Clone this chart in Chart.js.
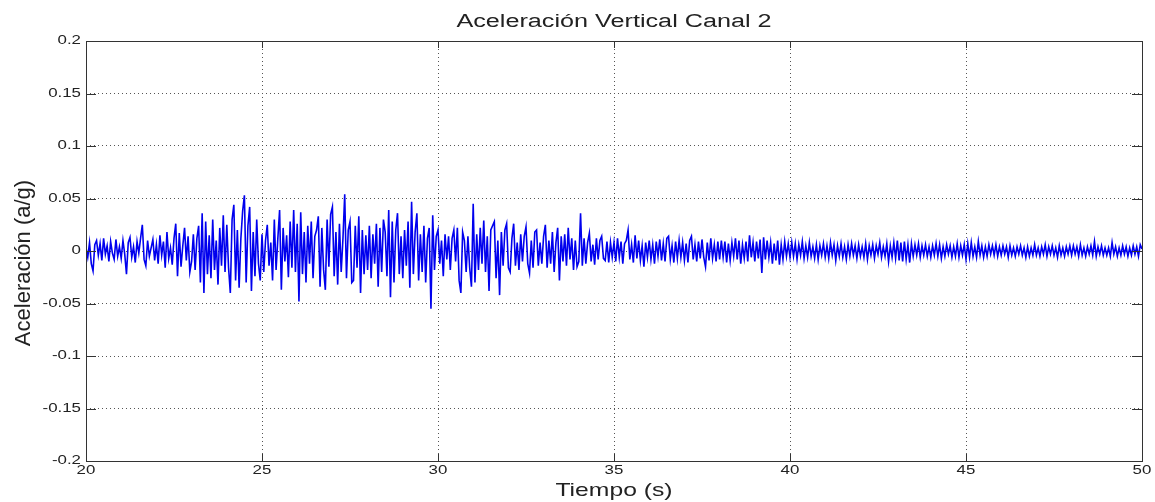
<!DOCTYPE html>
<html>
<head>
<meta charset="utf-8">
<title>Aceleración Vertical Canal 2</title>
<script src="https://cdn.jsdelivr.net/npm/chart.js@4.4.1/dist/chart.umd.min.js"></script>
<style>
  html, body { margin: 0; padding: 0; background: #fff; }
  #wrap { width: 1155px; height: 502px; }
</style>
</head>
<body>
<div id="wrap"><canvas id="acc-chart" width="1155" height="502"></canvas></div>
<script>
// sampling of the record (s)
var startTime = 20;
var sampleStep = 0.05;

// acceleration, thousandths of g, one row per second (20 samples)
var acc20 = [3, -6, 8, -12, -19, 6, 10, -4, 7, -9, 12, -3, 5, -10, 9, -2, -8, 11, -5, 4];
var acc21 = [-7, 10, -3, -22, 8, 13, -6, 4, -11, 9, -2, 12, 25, -8, -14, 10, -5, 3, 11, -9];
var acc22 = [6, -12, 15, -4, 9, -16, 18, -7, 3, -13, 12, 26, -24, 17, -15, 5, 22, -9, 14, -20];
var acc23 = [-10, 16, -18, 12, 24, -30, 36, -40, 28, -22, 15, -26, 30, -18, 10, -32, 22, -14, 34, -20];
var acc24 = [25, -16, -40, 30, 44, -28, 20, -35, 12, 38, 53, -30, 24, 42, -38, 18, -24, 30, -12, -28];
var acc25 = [16, -20, 10, 25, -14, 8, -28, 30, -18, 12, 39, -37, 22, -10, 15, -25, 28, -16, 39, -20];
var acc26 = [26, -48, 37, -22, 18, -30, 24, -12, 28, -26, 14, 20, 33, -34, 22, -18, -37, 30, -15, 35];
var acc27 = [42, -24, 18, -32, 26, -20, 12, 54, -26, 20, 28, -30, -28, 24, -16, 33, -40, 20, -22, 15];
var acc28 = [-18, 24, -26, 16, -12, 26, -34, 22, -20, 30, 18, -24, 39, -44, 28, -30, 20, 36, -22, 14];
var acc29 = [-26, 20, -14, 28, -35, 47, -22, 18, 36, -28, 16, -20, 24, -30, 12, 22, -55, 34, -18, 14];
var acc30 = [20, -12, 10, -24, 16, -8, 14, -18, 12, 20, -10, 22, -28, -40, 18, 10, -20, 14, -16, -34];
var acc31 = [45, -30, 16, -18, 22, -12, 29, -20, 14, -38, 20, 24, 28, -26, 10, -42, 18, -14, 20, 26];
var acc32 = [-16, -20, 12, 26, -14, 8, -18, 16, -10, 14, 23, -12, -21, 10, -16, 18, 20, -14, 8, -12];
var acc33 = [14, 25, -16, 10, -12, 18, -20, 8, 22, -28, 14, -10, 16, -14, 22, -8, 12, -18, 10, -15];
var acc34 = [-10, 36, -14, 12, -12, 8, 17, -10, 6, -13, 12, -8, 10, 14, -7, -9, 9, -11, 8, -6];
var acc35 = [8, -10, 12, -6, 9, -12, 7, 10, 20, -8, 6, -11, 15, -7, 10, -9, 5, -15, 8, -6];
var acc36 = [10, -8, 6, -12, 9, -5, 11, -9, 7, -10, 12, 14, -8, 5, -11, 9, -7, 10, -6, 8];
var acc37 = [-9, 7, -11, 10, 14, -8, 6, -10, 9, -7, 11, -6, -15, 8, -9, 12, -7, 6, -10, 9];
var acc38 = [-8, 10, -6, 9, -11, 7, -9, 8, -5, 12, -8, 10, -12, 6, -7, 9, -10, 15, -6, 8];
var acc39 = [-10, 9, -7, 11, -21, 13, -8, 10, -6, 8, -12, 7, -9, 10, -13, 6, -8, 9, -5, 7];
var acc40 = [-6, 8, -5, 7, -8, 6, -4, 9, -7, 5, -6, 8, -5, 4, -7, 6, -8, 5, -4, 7];
var acc41 = [-6, 5, -7, 8, -4, 6, -9, 5, -5, 7, -6, 4, -8, 6, -5, 7, -4, 5, -7, 6];
var acc42 = [-5, 4, -6, 7, -8, 5, -4, 6, -7, 5, -3, 8, -6, 4, -5, 7, -10, 5, -6, 8];
var acc43 = [-7, 10, -9, 8, -10, 9, -8, 6, -11, 7, -5, 6, -4, 7, -6, 5, -4, 6, -5, 4];
var acc44 = [-6, 5, -4, 7, -5, 6, -7, 4, -5, 6, -3, 5, -6, 4, -5, 7, -6, 5, -4, 6];
var acc45 = [-8, 7, -6, 8, -5, 4, -6, 9, -4, 5, -6, 4, -5, 6, -3, 5, -4, 6, -5, 4];
var acc46 = [-4, 5, -3, 4, -6, 5, -4, 3, -5, 4, -3, 5, -4, 3, -6, 4, -5, 3, -4, 6];
var acc47 = [-4, 3, -5, 4, -3, 6, -5, 4, -3, 5, -4, 3, -6, 5, -4, 3, -5, 4, -3, 5];
var acc48 = [-4, 5, -3, 4, -5, 6, -4, 3, -5, 4, -3, 5, -4, 9, -5, 4, -3, 5, -4, 3];
var acc49 = [-4, 3, -5, 8, -3, 4, -5, 3, -4, 5, -3, 4, -5, 3, -4, 5, -3, 4, -5, 6];
var acc50 = [2];

var xTicks = [20, 25, 30, 35, 40, 45, 50];
var yTicks = [-0.2, -0.15, -0.1, -0.05, 0, 0.05, 0.1, 0.15, 0.2];

var titleText = "Aceleración Vertical Canal 2";
var xTitleText = "Tiempo (s)";
var yTitleText = "Aceleración (a/g)";

document.addEventListener("DOMContentLoaded", function() {
    var rows = [acc20, acc21, acc22, acc23, acc24, acc25, acc26, acc27, acc28, acc29,
                acc30, acc31, acc32, acc33, acc34, acc35, acc36, acc37, acc38, acc39,
                acc40, acc41, acc42, acc43, acc44, acc45, acc46, acc47, acc48, acc49, acc50];
    var milliG = [].concat.apply([], rows);

    // time axis of the record and values in g
    var points = milliG.map(function(v, i) {
        return { x: +(startTime + i * sampleStep).toFixed(2), y: v / 1000 };
    });

    var font = '"Liberation Sans", Arial, Helvetica, sans-serif';
    var textColor = "#222";
    var boxColor = "#333";
    var stretch = 1.35;   // the picture is wider than tall, text looks stretched

    function fmt(v) {
        return String(Number(v.toFixed(2)));
    }

    function wideText(ctx, text, x, y, sx, align) {
        ctx.save();
        ctx.translate(x, y);
        ctx.scale(sx, 1);
        ctx.textAlign = align;
        ctx.fillText(text, 0, 0);
        ctx.restore();
    }

    var matlabFrame = {
        id: "matlabFrame",
        afterDraw: function(chart) {
            var ctx = chart.ctx;
            var a = chart.chartArea;
            var xs = chart.scales.x;
            var ys = chart.scales.y;

            // box
            ctx.save();
            ctx.strokeStyle = boxColor;
            ctx.lineWidth = 1;
            ctx.strokeRect(Math.round(a.left) + 0.5, Math.round(a.top) + 0.5,
                           Math.round(a.right - a.left), Math.round(a.bottom - a.top));

            // inward tick marks
            ctx.beginPath();
            xTicks.forEach(function(t) {
                var px = Math.round(xs.getPixelForValue(t)) + 0.5;
                ctx.moveTo(px, a.bottom); ctx.lineTo(px, a.bottom - 7);
                ctx.moveTo(px, a.top); ctx.lineTo(px, a.top + 7);
            });
            yTicks.forEach(function(t) {
                var py = Math.round(ys.getPixelForValue(t)) + 0.5;
                ctx.moveTo(a.left, py); ctx.lineTo(a.left + 10, py);
                ctx.moveTo(a.right, py); ctx.lineTo(a.right - 10, py);
            });
            ctx.stroke();

            // tick labels
            ctx.fillStyle = textColor;
            ctx.font = "12.5px " + font;
            ctx.textBaseline = "middle";
            yTicks.forEach(function(t) {
                wideText(ctx, fmt(t), a.left - 5, ys.getPixelForValue(t), stretch, "right");
            });
            xTicks.forEach(function(t) {
                wideText(ctx, fmt(t), xs.getPixelForValue(t), a.bottom + 10, stretch, "center");
            });

            // titles
            var cx = (a.left + a.right) / 2;
            ctx.textBaseline = "alphabetic";
            ctx.font = "18px " + font;
            wideText(ctx, titleText, cx, 27, 1.4, "center");
            ctx.font = "19px " + font;
            wideText(ctx, xTitleText, cx, 496, 1.3, "center");

            ctx.save();
            ctx.font = "22px " + font;
            ctx.textBaseline = "middle";
            ctx.textAlign = "center";
            ctx.translate(24, 263);
            ctx.rotate(-Math.PI / 2);
            ctx.fillText(yTitleText, 0, 0);
            ctx.restore();

            ctx.restore();
        }
    };

    var ctxAcc = document.getElementById("acc-chart").getContext("2d");
    var chartAcc = new Chart(ctxAcc, {
        type: "line",
        data: {
            datasets: [{
                data: points,
                borderColor: "#0000ee",
                borderWidth: 1.6,
                pointRadius: 0,
                tension: 0,
                fill: false
            }]
        },
        options: {
            responsive: false,
            animation: false,
            layout: { padding: { left: 86, right: 13, top: 41, bottom: 41 } },
            plugins: {
                legend: { display: false },
                title: { display: false },
                tooltip: { enabled: false }
            },
            scales: {
                x: {
                    type: "linear",
                    min: 20,
                    max: 50,
                    afterBuildTicks: function(scale) {
                        scale.ticks = xTicks.map(function(v) { return { value: v }; });
                    },
                    ticks: { display: false },
                    grid: { color: "#555", lineWidth: 1, drawTicks: false },
                    border: { display: false, dash: [1, 3] }
                },
                y: {
                    type: "linear",
                    min: -0.2,
                    max: 0.2,
                    afterBuildTicks: function(scale) {
                        scale.ticks = yTicks.map(function(v) { return { value: v }; });
                    },
                    ticks: { display: false },
                    grid: { color: "#555", lineWidth: 1, drawTicks: false },
                    border: { display: false, dash: [1, 3] }
                }
            }
        },
        plugins: [matlabFrame]
    });
});
</script>
</body>
</html>
